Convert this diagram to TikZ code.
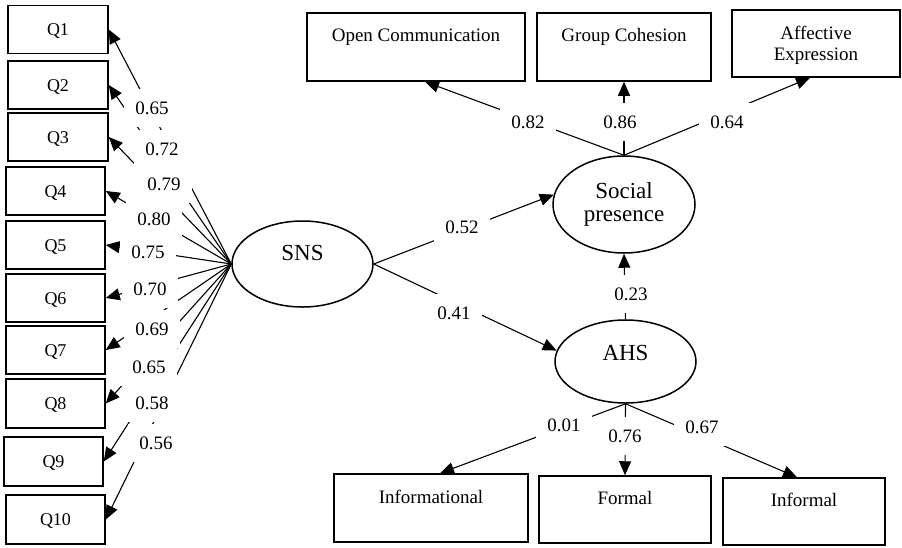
\documentclass[tikz,border=0pt]{standalone}
\usepackage{fontspec}
\setmainfont{Liberation Serif}
\usetikzlibrary{arrows.meta,shapes.geometric}
\begin{document}
\begin{tikzpicture}[x=1pt,y=-1pt,
  qbox/.style={draw, line width=1.5pt, minimum width=100pt, minimum height=48pt, inner sep=0pt,
    font=\fontsize{18}{20}\selectfont, text height=12.5pt, text depth=0pt},
  tbox/.style={draw, line width=1.5pt, inner sep=0pt, font=\fontsize{19}{21}\selectfont},
  ell/.style={draw, ellipse, line width=1.5pt, inner sep=0pt, font=\fontsize{23}{23}\selectfont},
  con/.style={line width=1.1pt, -{Triangle[length=14pt,width=12pt]}},
  lab/.style={fill=white, inner xsep=11pt, inner ysep=13pt, font=\fontsize{19}{21}\selectfont}]
\useasboundingbox (0,0) rectangle (902,547);

% indicator boxes
\node[qbox] (q1) at (58,29.5) {Q1};
\node[qbox] (q2) at (58,85) {Q2};
\node[qbox] (q3) at (58,137) {Q3};
\node[qbox, minimum width=99pt] (q4) at (55.5,191) {Q4};
\node[qbox, minimum width=99pt] (q5) at (55.5,245) {Q5};
\node[qbox, minimum width=99pt] (q6) at (55.5,298) {Q6};
\node[qbox, minimum width=99pt] (q7) at (55.5,350) {Q7};
\node[qbox, minimum width=99pt, minimum height=49pt] (q8) at (55.5,403.5) {Q8};
\node[qbox, minimum width=99pt, minimum height=49pt] (q9) at (53.5,461.5) {Q9};
\node[qbox, minimum width=99pt, minimum height=49pt] (q10) at (55.5,519.5) {Q10};

% latent variables
\node[ell, minimum width=141pt, minimum height=86pt, text height=15pt, text depth=22.5pt] (sns) at (302.5,264) {SNS};
\node[ell, minimum width=142pt, minimum height=97pt, align=center] (sp) at (624,204.5) {Social\\presence};
\node[ell, minimum width=141pt, minimum height=83pt, text height=15pt, text depth=17.5pt] (ahs) at (625.5,361.5) {AHS};

% top boxes
\node[tbox, minimum width=218pt, text height=28pt, text depth=40pt] (oc) at (416,47) {Open Communication};
\node[tbox, minimum width=174pt, text height=28pt, text depth=40pt] (gc) at (624,47) {Group Cohesion};
\node[tbox, minimum width=168pt, text height=29pt, text depth=38pt] (ae) at (816,43.5)
  {\begin{tabular}[t]{@{}c@{}}Affective\\Expression\end{tabular}};

% bottom boxes
\node[tbox, minimum width=194pt, text height=29pt, text depth=39pt] (infl) at (431,508) {Informational};
\node[tbox, minimum width=172pt, text height=28pt, text depth=39pt] (formal) at (625,509.5) {Formal};
\node[tbox, minimum width=162pt, text height=28pt, text depth=39pt] (informal) at (804,511.5) {Informal};

% connectors
\foreach \i in {1,...,10} \draw[con] (sns.west) -- (q\i.east);
\draw[con] (sns.east) -- (sp.172);
\draw[con] (sns.east) -- (ahs.171);
\draw[con] (ahs.north) -- (sp.south);
\draw[con] (sp.north) -- ([xshift=9pt]oc.south);
\draw[con] (sp.north) -- (gc.south);
\draw[con] (sp.north) -- ([xshift=-6pt]ae.south);
\draw[con] (ahs.south) -- ([xshift=9pt]infl.north);
\draw[con] (ahs.south) -- (formal.north);
\draw[con] (ahs.south) -- ([xshift=-7pt]informal.north);

% loadings
\node[lab] (l1) at (152,108) {0.65};
\node[lab] (l2) at (162,149) {0.72};
\node[lab] (l3) at (164,184) {0.79};
\node[lab] (l4) at (154,219) {0.80};
\node[lab] (l5) at (148,252) {0.75};
\node[lab] (l6) at (150,289) {0.70};
\node[lab] (l7) at (152,329) {0.69};
\node[lab] (l8) at (149,367) {0.65};
\node[lab] (l9) at (152,403) {0.58};
\node[lab] (l10) at (156,443) {0.56};

\node[lab] (loc) at (528,122) {0.82};
\node[lab] (lgc) at (620,122) {0.86};
\node[lab] (lae) at (727,122) {0.64};
\node[lab] (lsp) at (462,227) {0.52};
\node[lab] (lahs) at (454,313) {0.41};
\node[lab] (lah) at (631,294) {0.23};
\node[lab] (linf) at (564,425) {0.01};
\node[lab] (lfor) at (625,436) {0.76};
\node[lab] (linfo) at (702,427) {0.67};
\end{tikzpicture}
\end{document}
